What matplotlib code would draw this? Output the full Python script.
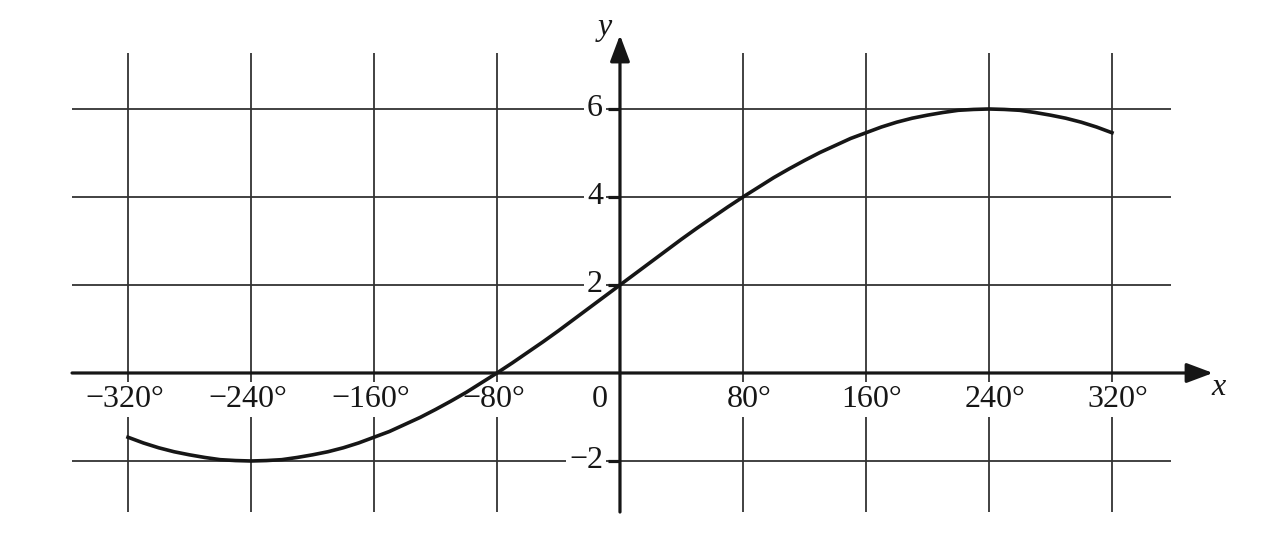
import matplotlib
matplotlib.use("Agg")
import matplotlib.pyplot as plt

# curve, every 10 degrees
xs = list(range(-320, 330, 10))
ys = [-1.46, -1.59, -1.70, -1.79, -1.86, -1.92, -1.97, -1.99, -2.00,
      -1.99, -1.97, -1.92, -1.86, -1.79, -1.70, -1.59, -1.46,
      -1.33, -1.17, -1.01, -0.83, -0.64, -0.44, -0.22, 0.00,
      0.23, 0.47, 0.71, 0.96, 1.22, 1.48, 1.74, 2.00,
      2.26, 2.52, 2.78, 3.04, 3.29, 3.53, 3.77, 4.00,
      4.22, 4.44, 4.64, 4.83, 5.01, 5.17, 5.33, 5.46,
      5.59, 5.70, 5.79, 5.86, 5.92, 5.97, 5.99, 6.00,
      5.99, 5.97, 5.92, 5.86, 5.79, 5.70, 5.59, 5.46]

xgrid = [-320, -240, -160, -80, 0, 80, 160, 240, 320]
xlabels = ["\u2212320\u00b0", "\u2212240\u00b0", "\u2212160\u00b0", "\u221280\u00b0",
           None, "80\u00b0", "160\u00b0", "240\u00b0", "320\u00b0"]
ygrid = [6, 4, 2, -2]
ylabels = ["6", "4", "2", "\u22122"]

plt.rcParams['font.family'] = ['Liberation Serif', 'DejaVu Serif']

fig = plt.figure(figsize=(12.86, 5.42), dpi=100)
ax = fig.add_axes([0, 0, 1, 1])
ax.set_xlim(-403.25, 433.2)
ax.set_ylim(-3.841, 8.477)
ax.set_axis_off()

ink = '#161616'
gridc = '#333333'

# grid
for gx in xgrid:
    if gx == 0:
        continue
    ax.plot([gx, gx], [-3.16, 7.27], color=gridc, lw=1.3, zorder=1, solid_capstyle='butt')
for gy in ygrid:
    ax.plot([-356.4, 358.4], [gy, gy], color=gridc, lw=1.3, zorder=1, solid_capstyle='butt')

# axes with arrows
arrow = dict(arrowstyle='-|>,head_length=0.8,head_width=0.3', mutation_scale=20,
             lw=2.3, color=ink, shrinkA=0, shrinkB=0)
ax.annotate('', xy=(385.7, 0), xytext=(-356.4, 0), arrowprops=arrow, zorder=4)
ax.annotate('', xy=(0, 7.68), xytext=(0, -3.16), arrowprops=arrow, zorder=4)

# small ticks on the y axis
for gy in ygrid:
    ax.plot([-7.8, 0], [gy, gy], color=ink, lw=2.3, zorder=4, solid_capstyle='butt')

box = dict(facecolor='white', edgecolor='none', pad=2)
fs = 23

for gx, lab in zip(xgrid, xlabels):
    if lab is None:
        continue
    shift = -3 if gx < 0 else 6
    ax.annotate(lab, xy=(gx, -0.6), xytext=(shift * 0.72, 0), textcoords='offset points',
                ha='center', va='center', fontsize=fs, color=ink, bbox=box, zorder=3)

for gy, lab in zip(ygrid, ylabels):
    ax.text(-11, gy, lab, ha='right', va='center', fontsize=fs, color=ink,
            bbox=box, zorder=3)

ax.text(-13, -0.6, "0", ha='center', va='center', fontsize=fs, color=ink, zorder=3)
ax.text(-9.8, 7.86, "y", ha='center', va='center', fontsize=fs, style='italic', color=ink)
ax.text(389, -0.32, "x", ha='center', va='center', fontsize=fs, style='italic', color=ink)

# curve
ax.plot(xs, ys, color=ink, lw=2.6, zorder=5, solid_joinstyle='round')

fig.savefig("out.png", dpi=100)
